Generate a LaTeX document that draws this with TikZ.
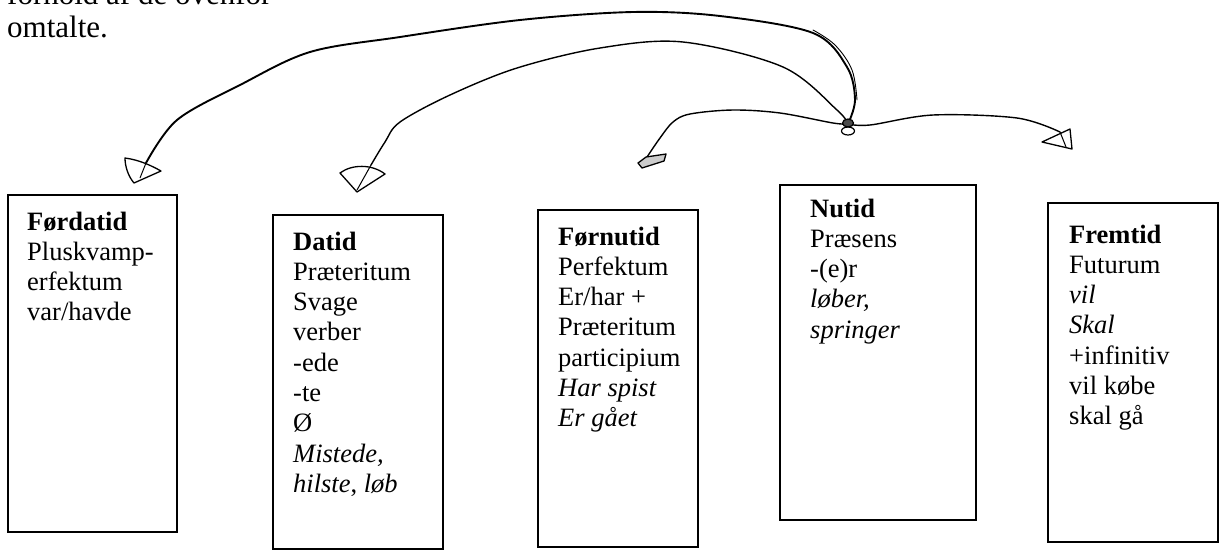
\documentclass[tikz,border=0pt]{standalone}
\usepackage{fontspec}
\setmainfont{Liberation Serif}
\newcommand{\vlines}[1]{\vtop{\baselineskip=30.3pt\lineskiplimit=-50pt\lineskip=0pt #1}}
\newcommand{\tl}[1]{\hbox{#1}}
\begin{document}
\begin{tikzpicture}[x=1pt,y=-1pt,
  tbox/.style={draw, line width=1.2pt, anchor=north west, inner sep=0pt, outer sep=0pt},
  ttext/.style={anchor=base west, inner sep=0pt, font=\fontsize{26.5}{30.3}\selectfont},
  conn/.style={line width=1.4pt, line cap=round, line join=round},
  ahead/.style={line width=1.3pt, line join=round}]
\useasboundingbox (0,0) rectangle (1220,550);

% top text (partly cut off, as in the reference)
\node[anchor=base west, inner sep=0pt, font=\fontsize{31}{34}\selectfont] (cut) at (7,4) {forhold af de ovenfor};
\node[anchor=base west, inner sep=0pt, font=\fontsize{31}{34}\selectfont] (omt) at (7,37) {omtalte.};

% boxes
\node[tbox, minimum width=169pt, minimum height=337pt] (b1) at (8,195) {};
\node[tbox, minimum width=170pt, minimum height=334pt] (b2) at (273,215) {};
\node[tbox, minimum width=160pt, minimum height=337pt] (b3) at (538,210) {};
\node[tbox, minimum width=196pt, minimum height=335pt] (b4) at (780,185) {};
\node[tbox, minimum width=170pt, minimum height=339pt] (b5) at (1048,203) {};

% texts
\node[ttext] (t1) at ([shift={(19,35)}]b1.north west) {\vlines{\tl{\textbf{Førdatid}}\tl{Pluskvamp-}\tl{erfektum}\tl{var/havde}}};
\node[ttext] (t2) at ([shift={(20,35)}]b2.north west) {\vlines{\tl{\textbf{Datid}}\tl{Præteritum}\tl{Svage}\tl{verber}\tl{-ede}\tl{-te}\tl{Ø}\tl{\textit{Mistede,}}\tl{\textit{hilste}, \textit{løb}}}};
\node[ttext] (t3) at ([shift={(20,35)}]b3.north west) {\vlines{\tl{\textbf{Førnutid}}\tl{Perfektum}\tl{Er/har +}\tl{Præteritum}\tl{participium}\tl{\textit{Har spist}}\tl{\textit{Er gået}}}};
\node[ttext] (t4) at ([shift={(30,32)}]b4.north west) {\vlines{\tl{\textbf{Nutid}}\tl{Præsens}\tl{-(e)r}\tl{\textit{løber,}}\tl{\textit{springer}}}};
\node[ttext] (t5) at ([shift={(21,40)}]b5.north west) {\vlines{\tl{\textbf{Fremtid}}\tl{Futurum}\tl{\textit{vil}}\tl{\textit{Skal}}\tl{+infinitiv}\tl{vil købe}\tl{skal gå}}};

% connector points
\coordinate (src) at (848,124);
\coordinate (e1) at (146,163);
\coordinate (e2) at (371,165);
\coordinate (e3) at (647,157);
\coordinate (e4) at (1060,132);

% curves
\draw[conn, line width=1.9pt] plot[smooth, tension=0.55] coordinates {(src) (855,100) (847,67) (813,33) (720,16) (633,12) (520,20) (400,37) (310,52) (240,85) (177,120) (e1)};
\draw[line width=0.9pt, line cap=round] plot[smooth, tension=0.6] coordinates {(813,30) (835,45) (852,70) (857,100)};
\draw[conn] plot[smooth, tension=0.55] coordinates {(src) (837,110) (783,67) (683,42) (600,48) (517,68) (450,95) (400,122) (385,142) (e2)};
\draw[conn] plot[smooth, tension=0.55] coordinates {(src) (833,123) (780,113) (733,110) (690,114) (673,122) (660,138) (e3)};
\draw[conn] plot[smooth, tension=0.55] coordinates {(src) (870,125) (933,115) (1017,118) (e4)};

% arrow heads and tail
\draw[ahead] (125,158) .. controls (140,160) and (152,166) .. (161,171) -- (134,183) .. controls (128,176) and (125,166) .. (125,158) -- cycle;
\draw[line width=1pt] (e1) -- (140,178);
\draw[ahead] (340,173) .. controls (352,164) and (372,164) .. (385,174) -- (357,192) -- cycle;
\draw[line width=1pt] (e2) -- (357,190);
\draw[ahead, fill=black!20] (638,163) -- (646,157) -- (666,154) -- (664,161) -- (642,168) -- cycle;
\draw[ahead] (1042,142) -- (1070,129) -- (1072,149) -- cycle;
\draw[line width=1pt] (e4) -- (1066,147);
\draw[line width=1.2pt, fill=black!70] (848,123) ellipse (5.5pt and 4pt);
\draw[line width=1.2pt] (848,131) ellipse (6.5pt and 4pt);
\end{tikzpicture}
\end{document}
